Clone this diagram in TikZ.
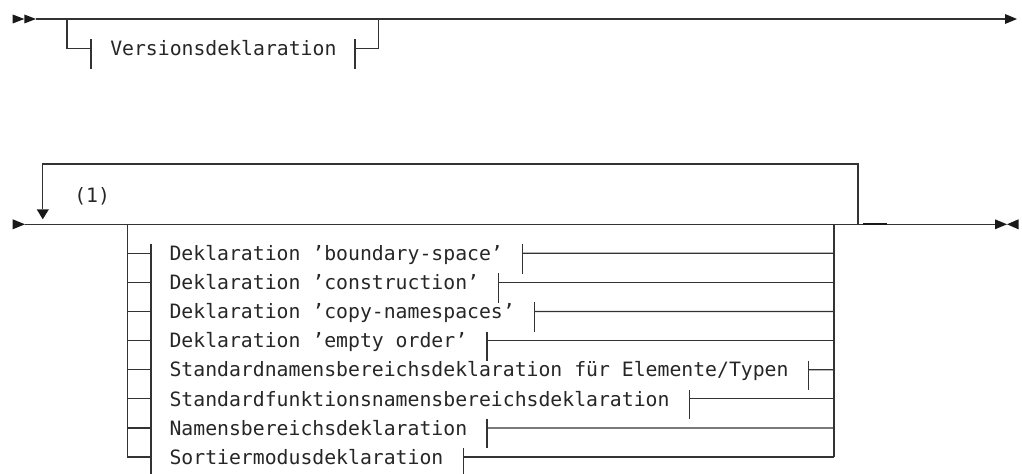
\documentclass[tikz,border=0pt]{standalone}
\usepackage{fontspec}
\usetikzlibrary{calc}
\newfontfamily\diagfont{DejaVu Sans Mono}
\tikzset{
 ln/.style={line width=0.9pt, draw=black!80},
 tip/.style={fill=black!90},
 lbl/.style={font=\diagfont\fontsize{14.83pt}{18pt}\selectfont, text=black!85, inner sep=0pt, anchor=base west},
}
\begin{document}
\begin{tikzpicture}[x=0.75pt,y=-0.75pt]
\useasboundingbox (0,0) rectangle (1022,474);
% ---- top diagram
\coordinate (s1) at (36,19);
\coordinate (e1) at (1005,19);
\draw[ln] (s1) -- (e1);
\fill[tip] (12.7,14.5) -- (24.3,19) -- (12.7,23.5) -- cycle;
\fill[tip] (24.3,14.5) -- (36,19) -- (24.3,23.5) -- cycle;
\fill[tip] (1005,14) -- (1017,19) -- (1005,24) -- cycle;
\node[lbl] (ver) at (110,55.7) {Versionsdeklaration};
\coordinate (vin) at (67,19);
\coordinate (vout) at (378.7,19);
\coordinate (vl) at ($(ver.base west)+(-19,-7.2)$);
\coordinate (vr) at ($(ver.base east)+(18.3,-7.2)$);
\draw[ln] (vin) |- (vl);
\draw[ln] ($(vl)+(0,-9)$) -- ($(vl)+(0,20.5)$);
\draw[ln] ($(vr)+(0,-9)$) -- ($(vr)+(0,20.5)$);
\draw[ln] (vr) -| (vout);
% ---- bottom diagram
\coordinate (s2) at (25,224.3);
\coordinate (e2) at (995,224.3);
\draw[ln] (s2) -- (e2);
\fill[tip] (12.7,219.3) -- (25,224.3) -- (12.7,229.3) -- cycle;
\fill[tip] (995,219.3) -- (1007,224.3) -- (995,229.3) -- cycle;
\fill[tip] (1018.5,219.3) -- (1007,224.3) -- (1018.5,229.3) -- cycle;
% repeat loop
\coordinate (lr) at (858,224.3);
\coordinate (lt) at (42.7,164);
\coordinate (la) at (42.7,209.5);
\draw[ln] (lr) |- (lt) -- (la);
\fill[tip] (36.7,209.3) -- (48.9,209.3) -- (42.8,219.3) -- cycle;
\node[lbl] (rep) at (74,202.5) {(1)};
\draw[line width=1.6pt, black!90] (863,224.3) -- (887,224.3);
% choice block
\coordinate (cl) at (127.3,224.3);
\coordinate (cr) at (834,224.3);
\coordinate (clb) at (127.3,457.1);
\coordinate (crb) at (834,457.1);
\draw[ln] (cl) -- (clb);
\draw[ln] (cr) -- (crb);
\draw[ln] (151,244.3) -- (151,480);
\foreach \txt [count=\i from 0] in {Deklaration ’boundary-space’,Deklaration ’construction’,Deklaration ’copy-namespaces’,Deklaration ’empty order’,Standardnamensbereichsdeklaration für Elemente/Typen,Standardfunktionsnamensbereichsdeklaration,Namensbereichsdeklaration,Sortiermodusdeklaration}{
  \pgfmathsetmacro\ry{253.3+29.1*\i}
  \node[lbl] (t\i) at (169.3,\ry+7.2) {\txt};
  \draw[ln] (127.3,\ry) -- (151,\ry);
  \coordinate (r\i) at ($(t\i.base east)+(19.5,-7.2)$);
  \draw[ln] ($(r\i)+(0,-9)$) -- ($(r\i)+(0,20.5)$);
  \draw[ln] (r\i) -- (834,\ry);
}
\end{tikzpicture}
\end{document}
